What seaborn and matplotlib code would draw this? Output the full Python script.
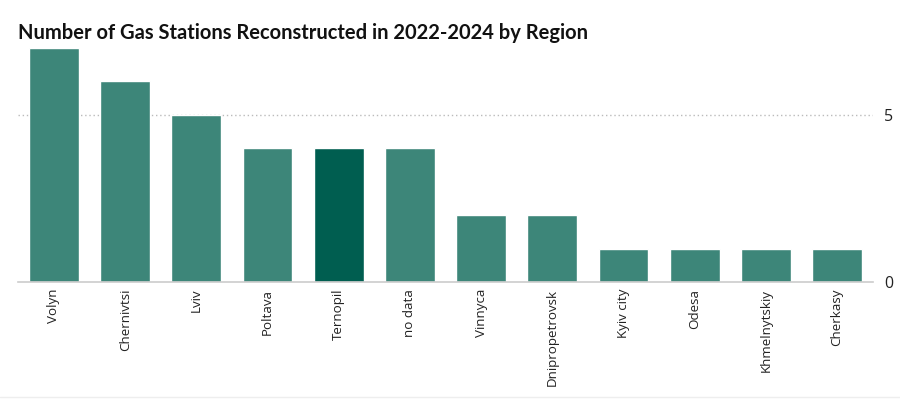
import matplotlib
matplotlib.use("Agg")
import matplotlib.pyplot as plt
import seaborn as sns
import pandas as pd

regions = ["Volyn", "Chernivtsi", "Lviv", "Poltava", "Ternopil", "no data",
           "Vinnyca", "Dnipropetrovsk", "Kyiv city", "Odesa", "Khmelnytskiy", "Cherkasy"]
stations = [7, 6, 5, 4, 4, 4, 2, 2, 1, 1, 1, 1]
highlight = "Ternopil"
yticks = [0, 5]

base_color = "#3d8679"
dark_color = "#005e50"

sns.set_theme(style="white")
plt.rcParams["font.family"] = ["Open Sans", "DejaVu Sans"]

df = pd.DataFrame({"region": regions, "count": stations})
palette = {r: (dark_color if r == highlight else base_color) for r in regions}

fig = plt.figure(figsize=(9, 3.99), dpi=100)
ax = fig.add_axes([0.0204, 0.2932, 0.9492, 0.5865])
sns.barplot(data=df, x="region", y="count", hue="region", palette=palette,
            width=0.7, saturation=1, legend=False, ax=ax)

ax.set_xlim(-0.5, len(regions) - 0.5)
ax.set_ylim(0, 7)
ax.set_yticks(yticks)
ax.yaxis.tick_right()
ax.tick_params(axis="y", length=0, pad=8, labelsize=11.5, labelcolor="#222222")
ax.tick_params(axis="x", length=0, pad=5, labelsize=9.6, labelcolor="#222222")
plt.setp(ax.get_xticklabels(), rotation=90, va="top", ha="center")
ax.set_xlabel("")
ax.set_ylabel("")
for s in ["top", "left", "right"]:
    ax.spines[s].set_visible(False)
ax.spines["bottom"].set_color("#cccccc")
ax.spines["bottom"].set_linewidth(1.2)
ax.axhline(5, color="#bbbbbb", linestyle=(0, (1, 2)), linewidth=1, zorder=0)

fig.text(0.02, 0.918, "Number of Gas Stations Reconstructed in 2022-2024 by Region",
         fontsize=14.5, fontweight="bold", color="#111111", va="center", ha="left",
         family=["Lato", "DejaVu Sans"])
fig.add_artist(plt.Line2D([0, 1], [0.006, 0.006], color="#eeeeee", linewidth=1))

fig.savefig("out.png", dpi=100)
